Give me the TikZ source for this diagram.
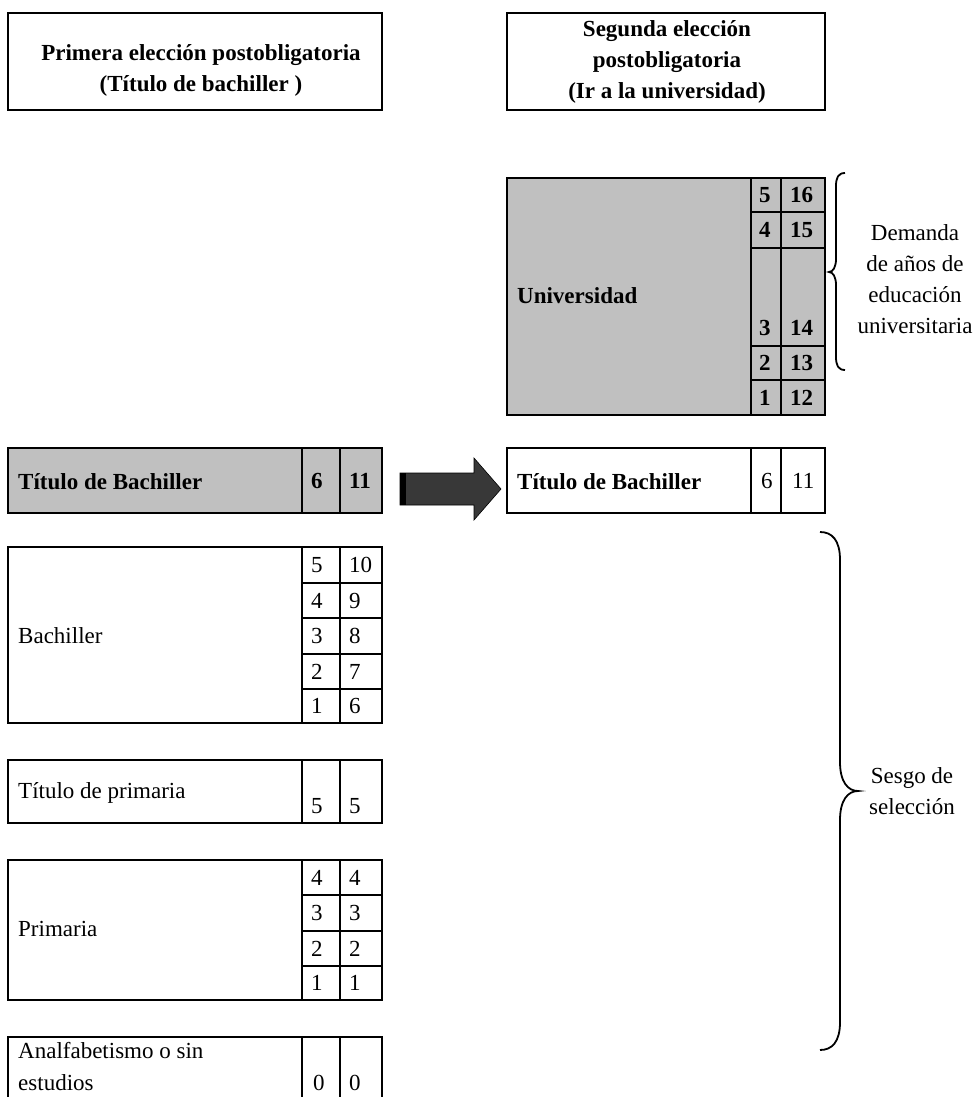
\documentclass[tikz,border=0pt]{standalone}
\usepackage{fontspec}
\setmainfont{Liberation Serif}
\definecolor{boxgray}{HTML}{C0C0C0}
\definecolor{arrowgray}{HTML}{383838}
\tikzset{
  box/.style={draw, line width=1.8pt, anchor=north west, inner sep=0pt, outer sep=0pt},
  gbox/.style={box, fill=boxgray},
  txt/.style={anchor=base west, inner sep=0pt},
  num/.style={anchor=west, inner sep=0pt},
  lab/.style={align=center, inner sep=0pt},
  brace/.style={line width=1.8pt},
}
\begin{document}
\fontsize{23}{31}\selectfont
\begin{tikzpicture}[x=1pt,y=-1pt]
\useasboundingbox (0,0) rectangle (976,1097);
\clip (0,0) rectangle (976,1097);

% top headers
\node[box, minimum width=374, minimum height=97] (top1) at (8,13) {};
\node[lab, font=\bfseries] (top1t) at (201,70) {Primera elección postobligatoria\\(Título de bachiller )};
\node[box, minimum width=318, minimum height=97] (top2) at (507,13) {};
\node[lab, font=\bfseries] (top2t) at (667,62) {Segunda elección\\postobligatoria\\(Ir a la universidad)};

% Universidad
\node[gbox, minimum width=318, minimum height=237] (uni) at (507,178) {};
\node[txt, font=\bfseries] (unit) at (517,303) {Universidad};
\foreach \yt/\h/\ny/\a/\b in {178/34/195/5/16, 212/36/230/4/15, 248/98/328/3/14, 346/34/363/2/13, 380/35/397.5/1/12}{
  \node[gbox, minimum width=30, minimum height=\h] (ua\a) at (751,\yt) {};
  \node[gbox, minimum width=44, minimum height=\h] (ub\a) at (781,\yt) {};
  \node[num, font=\bfseries] (una\a) at (759,\ny) {\a};
  \node[num, font=\bfseries] (unb\a) at (790,\ny) {\b};
}
\draw[brace] (845,173) .. controls (838,173) and (836,178) .. (836,186) -- (836,259) .. controls (836,267) and (833,272) .. (829,272) .. controls (833,272) and (836,277) .. (836,285) -- (836,357) .. controls (836,365) and (838,370) .. (845,370);
\node[lab] (dem) at (915,279) {Demanda\\de años de\\educación\\universitaria};

% Titulo de Bachiller (gray, left)
\node[gbox, minimum width=374, minimum height=65] (gb) at (8,448) {};
\node[gbox, minimum width=38, minimum height=65] (gba) at (302,448) {};
\node[gbox, minimum width=42, minimum height=65] (gbb) at (340,448) {};
\node[txt, font=\bfseries] (gbt) at (18,489) {Título de Bachiller};
\node[num, font=\bfseries] (gban) at (311,480.5) {6};
\node[num, font=\bfseries] (gbbn) at (349,480.5) {11};

% arrow
\draw[fill=arrowgray, line width=0.6pt] (400,473) -- (474,473) -- (474,458) -- (501,489) -- (474,520) -- (474,505) -- (400,505) -- cycle;
\fill (400,473) rectangle (406,505);

% Titulo de Bachiller (white, right)
\node[box, minimum width=318, minimum height=65] (rb) at (507,448) {};
\node[box, minimum width=30, minimum height=65] (rba) at (751,448) {};
\node[box, minimum width=44, minimum height=65] (rbb) at (781,448) {};
\node[txt, font=\bfseries] (rbt) at (517,489) {Título de Bachiller};
\node[num] (rban) at (761,480.5) {6};
\node[num] (rbbn) at (792,480.5) {11};

% Bachiller
\node[box, minimum width=374, minimum height=176] (ba) at (8,547) {};
\node[txt] (bat) at (18,643) {Bachiller};
\foreach \yt/\h/\a/\b in {547/36/5/10, 583/35/4/9, 618/36/3/8, 654/35/2/7, 689/34/1/6}{
  \node[box, minimum width=38, minimum height=\h] (baa\a) at (302,\yt) {};
  \node[box, minimum width=42, minimum height=\h] (bab\a) at (340,\yt) {};
  \node[num] (bana\a) at (311,\yt+\h/2) {\a};
  \node[num] (banb\a) at (349,\yt+\h/2) {\b};
}

% Titulo de primaria
\node[box, minimum width=374, minimum height=63] (tp) at (8,760) {};
\node[box, minimum width=38, minimum height=63] (tpa) at (302,760) {};
\node[box, minimum width=42, minimum height=63] (tpb) at (340,760) {};
\node[txt] (tpt) at (18,798) {Título de primaria};
\node[num] (tpan) at (311,806) {5};
\node[num] (tpbn) at (349,806) {5};

% Primaria
\node[box, minimum width=374, minimum height=140] (pr) at (8,860) {};
\node[txt] (prt) at (18,936) {Primaria};
\foreach \yt/\h/\a in {860/35/4, 895/36/3, 931/35/2, 966/34/1}{
  \node[box, minimum width=38, minimum height=\h] (pra\a) at (302,\yt) {};
  \node[box, minimum width=42, minimum height=\h] (prb\a) at (340,\yt) {};
  \node[num] (prna\a) at (311,\yt+\h/2) {\a};
  \node[num] (prnb\a) at (349,\yt+\h/2) {\a};
}

% Analfabetismo
\node[box, minimum width=374, minimum height=90] (an) at (8,1037) {};
\node[box, minimum width=38, minimum height=90] (ana) at (302,1037) {};
\node[box, minimum width=42, minimum height=90] (anb) at (340,1037) {};
\node[txt] (ant1) at (18,1058) {Analfabetismo o sin};
\node[txt] (ant2) at (18,1090) {estudios};
\node[num] (anan) at (313,1083) {0};
\node[num] (anbn) at (349,1083) {0};

% Sesgo brace
\draw[brace] (820,532) .. controls (832,532) and (840,540) .. (840,560) -- (840,762) .. controls (840,782) and (848,791) .. (858,791) .. controls (848,791) and (840,800) .. (840,820) -- (840,1022) .. controls (840,1042) and (832,1050) .. (820,1050);
\node[lab] (ses) at (912,791) {Sesgo de\\selección};
\end{tikzpicture}
\end{document}
